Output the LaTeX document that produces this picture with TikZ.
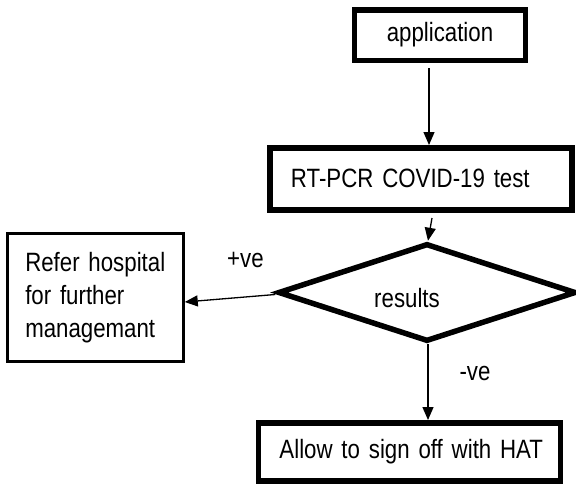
\documentclass[tikz,border=0pt]{standalone}
\usepackage{fontspec}
\setmainfont[FakeStretch=0.84, WordSpace=0.7]{Liberation Sans}
\usetikzlibrary{matrix,shapes.geometric,arrows.meta}

\tikzset{
	box/.style={draw, rectangle, line width=5.5pt},
	wide/.style={text width=260pt, align=left, inner xsep=21pt, inner ysep=0pt, minimum height=62pt},
	thinbox/.style={draw, rectangle, line width=3pt, text width=140pt, align=left, inner xsep=18pt, minimum height=128pt},
	decision/.style={draw, diamond, line width=5.5pt, inner sep=0pt, minimum width=298pt, minimum height=98pt},
	arr/.style={-{Triangle[length=13pt,width=11pt]}, line width=1.3pt},
}

\begin{document}
\begin{tikzpicture}[x=1pt, y=-1pt, font=\fontsize{26.5}{33}\selectfont]
	\useasboundingbox (0,0) rectangle (576,485);
	\matrix (flow) [matrix of nodes, row sep=0pt, column sep=71pt, matrix anchor=flow-2-2.center, nodes={anchor=center}] at (421,178.75) {
		& |[box, minimum width=170.5pt, minimum height=50.5pt, xshift=19pt]| application \\[82pt]
		& |[box, wide]| \mbox{RT-PCR COVID-19 test} \\[19.5pt]
		|[thinbox]| {Refer hospital\\ for further\\ managemant} & |[decision, xshift=6pt, yshift=5pt, label={[xshift=-20pt, yshift=-5.5pt]center:results}]| \strut \\[57pt]
		& |[box, wide, minimum height=58pt, xshift=-11.5pt]| \mbox{Allow to sign off with HAT} \\};
	\path[arr]
		([xshift=-11pt, yshift=-5pt]flow-1-2.south) edge ([xshift=8pt]flow-2-2.north)
		([xshift=11pt, yshift=-5.5pt]flow-2-2.south) edge ([xshift=1pt]flow-3-2.north)
		([yshift=-2pt]flow-3-2.west) edge node [pos=.33, yshift=37pt] {+ve} ([yshift=-4.5pt]flow-3-1.east)
		([xshift=1pt]flow-3-2.south) edge node [pos=.38, xshift=47pt] {-ve} ([xshift=18.5pt]flow-4-2.north);
\end{tikzpicture}
\end{document}
